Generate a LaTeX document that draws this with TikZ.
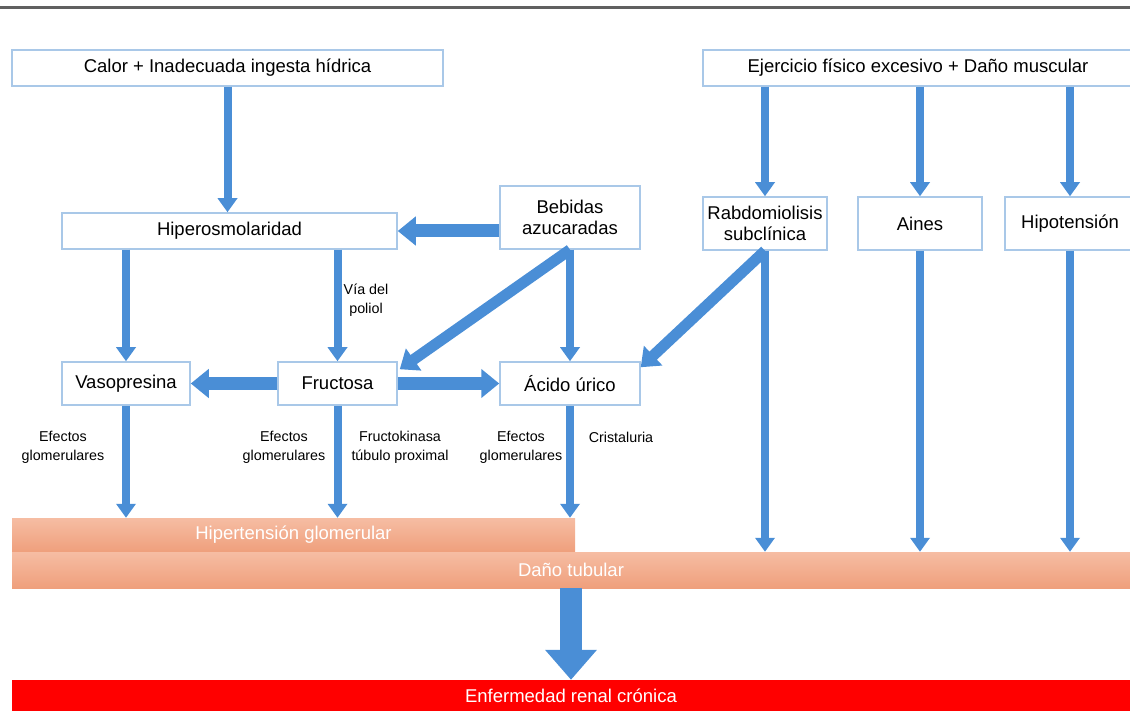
\documentclass[tikz,border=0pt]{standalone}
\usepackage{fontspec}
\setmainfont{Liberation Sans}
\usetikzlibrary{arrows.meta,calc}
\definecolor{arrblue}{HTML}{4A8ED6}
\definecolor{boxline}{HTML}{A9C8E8}
\definecolor{salmonT}{HTML}{F6BDA3}
\definecolor{salmonB}{HTML}{EF9F7C}
\definecolor{ercred}{HTML}{FF0000}
\begin{document}
\begin{tikzpicture}[x=1pt,y=-1pt,
 box/.style={draw=boxline,line width=1.5pt,fill=white,inner sep=0pt,font=\fontsize{18.5}{21}\selectfont,align=center},
 arr/.style={draw=arrblue,line width=8pt,-{Triangle[width=19pt,length=14pt]}},
 darr/.style={draw=arrblue,line width=11pt,-{Triangle[width=26pt,length=17pt]}},
 warr/.style={draw=arrblue,line width=13pt,-{Triangle[width=28pt,length=18pt]}},
 bigarr/.style={draw=arrblue,line width=22pt,-{Triangle[width=50pt,length=30pt]}},
 lbl/.style={font=\fontsize{14.3}{19}\selectfont,align=center,inner sep=0pt},
 band/.style={inner sep=0pt,font=\fontsize{18.5}{21}\selectfont,text=white}]
\useasboundingbox (0,0) rectangle (1130,711);
\draw[line width=3pt,draw=gray!75!black] (0,8) -- (1130,8);
% boxes
\node[box,minimum width=431pt,minimum height=36pt] (calor) at (227.5,68) {Calor + Inadecuada ingesta hídrica};
\node[box,minimum width=430pt,minimum height=36pt] (ejer) at (918,68) {Ejercicio físico excesivo + Daño muscular};
\node[box,minimum width=335pt,minimum height=36pt] (hiper) at (229.5,231) {Hiperosmolaridad};
\node[box,minimum width=140pt,minimum height=63pt] (bebidas) at (570,217.5) {Bebidas\\azucaradas};
\node[box,minimum width=124pt,minimum height=53pt] (rabdo) at (765,223.5) {Rabdomiolisis\\subclínica};
\node[box,minimum width=124pt,minimum height=53pt] (aines) at (920,223.5) {Aines};
\node[box,minimum width=130pt,minimum height=53pt] (hipot) at (1070,223.5) {Hipotensión};
\node[box,minimum width=128pt,minimum height=43pt] (vaso) at (126,383.5) {Vasopresina};
\node[box,minimum width=119pt,minimum height=43pt] (fruc) at (337.5,383.5) {Fructosa};
\node[box,minimum width=140pt,minimum height=43pt] (acido) at (570,383.5) {Ácido úrico};
% bands
\node[band,minimum width=563pt,minimum height=34pt,top color=salmonT,bottom color=salmonB] (hg) at (293.5,535) {Hipertensión glomerular};
\node[band,minimum width=1118pt,minimum height=36pt,top color=salmonT,bottom color=salmonB] (dt) at (571,570) {Daño tubular};
\node[band,minimum width=1118pt,minimum height=32pt,fill=ercred] (erc) at (571,696) {Enfermedad renal crónica};
% arrows
\draw[arr] (calor.south) -- (calor.south |- hiper.north);
\draw[warr] (bebidas.west |- hiper.east) -- (hiper.east);
\draw[arr] (rabdo.north |- ejer.south) -- (rabdo.north);
\draw[arr] (aines.north |- ejer.south) -- (aines.north);
\draw[arr] (hipot.north |- ejer.south) -- (hipot.north);
\draw[arr] (hiper.south -| vaso.north) -- (vaso.north);
\draw[arr] (hiper.south -| fruc.north) -- (fruc.north);
\draw[warr] (fruc.west) -- (vaso.east);
\draw[warr] (fruc.east) -- (acido.west);
\draw[darr] (bebidas.south) -- ($(fruc.north east)+(2,8)$);
\draw[arr] (bebidas.south) -- (acido.north);
\draw[darr] (rabdo.south) -- ($(acido.north east)+(0,6)$);
\draw[arr] (rabdo.south) -- (rabdo.south |- dt.north);
\draw[arr] (aines.south) -- (aines.south |- dt.north);
\draw[arr] (hipot.south) -- (hipot.south |- dt.north);
\draw[arr] (vaso.south) -- (vaso.south |- hg.north);
\draw[arr] (fruc.south) -- (fruc.south |- hg.north);
\draw[arr] (acido.south) -- (acido.south |- hg.north);
\draw[bigarr] (dt.south) -- (erc.north);
% labels
\node[lbl] (l1) at (366,300) {Vía del\\poliol};
\node[lbl] (l2) at (63,447) {Efectos\\glomerulares};
\node[lbl] (l3) at (284,447) {Efectos\\glomerulares};
\node[lbl] (l4) at (400,447) {Fructokinasa\\túbulo proximal};
\node[lbl] (l5) at (521,447) {Efectos\\glomerulares};
\node[lbl] (l6) at (621,437) {Cristaluria};
\end{tikzpicture}
\end{document}
